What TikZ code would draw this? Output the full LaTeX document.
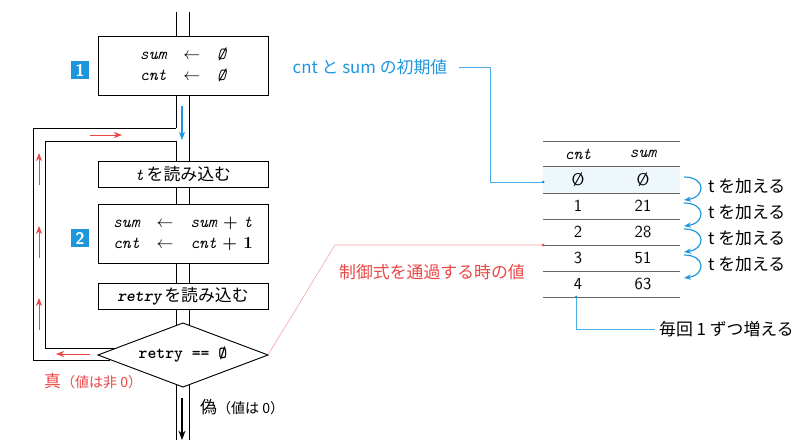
\documentclass[tikz,border=0pt]{standalone}
\usepackage{fontspec}
\newfontfamily\jp{Noto Sans CJK JP}
\usetikzlibrary{arrows.meta}
\definecolor{cyanb}{RGB}{30,150,220}
\definecolor{redl}{RGB}{235,70,70}
\tikzset{
  box/.style={draw, line width=0.8pt, font=\Large},
  num/.style={fill=cyanb, text=white, font=\sffamily\bfseries\Large, inner sep=1.5pt, minimum size=15pt},
  redarr/.style={redl, line width=0.8pt, -{Stealth[length=7pt]}},
  cyanline/.style={cyanb!80, line width=0.5pt},
  addarr/.style={cyanb, line width=1pt, -{Stealth[length=6pt]}},
}
\newcommand{\cv}[1]{{\ttfamily\itshape #1}}
\begin{document}
\begin{tikzpicture}[x=0.03cm,y=-0.03cm]
\useasboundingbox (0,0) rectangle (798,448);
% main flow lines
\draw[line width=0.8pt] (176,12) -- (176,128) (189,12) -- (189,440);
\draw[line width=0.8pt] (176,141) -- (176,440);
% loop
\draw[line width=0.8pt] (176,128) -- (33,128) -- (33,360) -- (110,360);
\draw[line width=0.8pt] (176,141) -- (45,141) -- (45,348) -- (120,348);
% boxes
\node[box, fill=white, minimum width=170*0.03cm, minimum height=59*0.03cm] (init) at (183,66)
  {\begin{tabular}{@{}l@{\quad}c@{\quad}l@{}}\cv{sum}&$\leftarrow$&\cv{\O}\\\cv{cnt}&$\leftarrow$&\cv{\O}\end{tabular}};
\node[num] (n1) at (80,70) {1};
\node[box, fill=white, minimum width=170*0.03cm, minimum height=26*0.03cm] (readt) at (183,174) {\cv{t}\,\jp を読み込む};
\node[box, fill=white, minimum width=170*0.03cm, minimum height=59*0.03cm] (upd) at (183,234)
  {\begin{tabular}{@{}l@{\quad}c@{\quad}l@{}}\cv{sum}&$\leftarrow$&\cv{sum} \textbf{+} \cv{t}\\\cv{cnt}&$\leftarrow$&\cv{cnt} \textbf{+ 1}\end{tabular}};
\node[num] (n2) at (80,238) {2};
\node[box, fill=white, minimum width=170*0.03cm, minimum height=26*0.03cm] (readr) at (183,296) {\cv{\textbf{retry}}\,\jp を読み込む};
\draw[line width=0.8pt, fill=white] (98,355) -- (183,323) -- (268,355) -- (183,387) -- cycle;
\node[font=\Large] (cond) at (183,355) {\ttfamily\textbf{retry == \O}};
\coordinate (dr) at (268,355);
% arrows
\draw[cyanb, line width=1pt, -{Stealth[length=7pt]}] (182,106) -- (182,140);
\draw[line width=1pt, -{Stealth[length=8pt]}] (182,398) -- (182,440);
\draw[redarr] (90,135) -- (122,135);
\foreach \y in {185,258,330} \draw[redarr] (39,\y) -- (39,\y-32);
\draw[redarr] (90,354) -- (56,354);
\node[redl, anchor=west, font=\jp\Large] (tr) at (40,381) {真\large（値は非 0）};
\node[anchor=west, font=\jp\Large] (fa) at (196,407) {偽\large（値は 0）};
% table
\fill[cyanb!8] (543,167) rectangle (680,193);
\foreach \y in {141,166,193,219,245,271,297} \draw[gray!80!black, line width=0.8pt] (543,\y) -- (680,\y);
\node[font=\Large] (hc) at (578,154) {\cv{cnt}};
\node[font=\Large] (hs) at (643,154) {\cv{sum}};
\foreach \c/\s/\y in {\O/\O/180,1/21/206,2/28/232,3/51/258,4/63/284}{
  \node[font=\sffamily\Large] at (578,\y) {\c};
  \node[font=\sffamily\Large] at (643,\y) {\s};
}
\foreach \y in {180,206,232,258}{
  \draw[addarr] (684,\y-3) .. controls (706,\y-3) and (706,\y+17) .. (684,\y+20);
  \node[anchor=west, font=\jp\Large] at (704,\y+6) {t を加える};
}
% notes
\node[cyanb, font=\jp\Large] (ini) at (370,67) {cnt と sum の初期値};
\draw[cyanline] (ini.east) ++(8,0) -- (490,67) -- (490,182) -- (543,182);
\fill[cyanb] (543,182) circle (1.5);
\node[redl, font=\jp\Large] (pass) at (432,272) {制御式を通過する時の値};
\draw[redl!50, line width=0.5pt] (dr) -- (335,245) -- (543,245);
\fill[redl] (543,245) circle (1.5);
\node[anchor=west, font=\jp\Large] (inc) at (655,329) {毎回 1 ずつ増える};
\draw[cyanline] (576,297) -- (576,329) -- (inc.west);
\fill[cyanb] (576,297) circle (1.5);
\end{tikzpicture}
\end{document}
